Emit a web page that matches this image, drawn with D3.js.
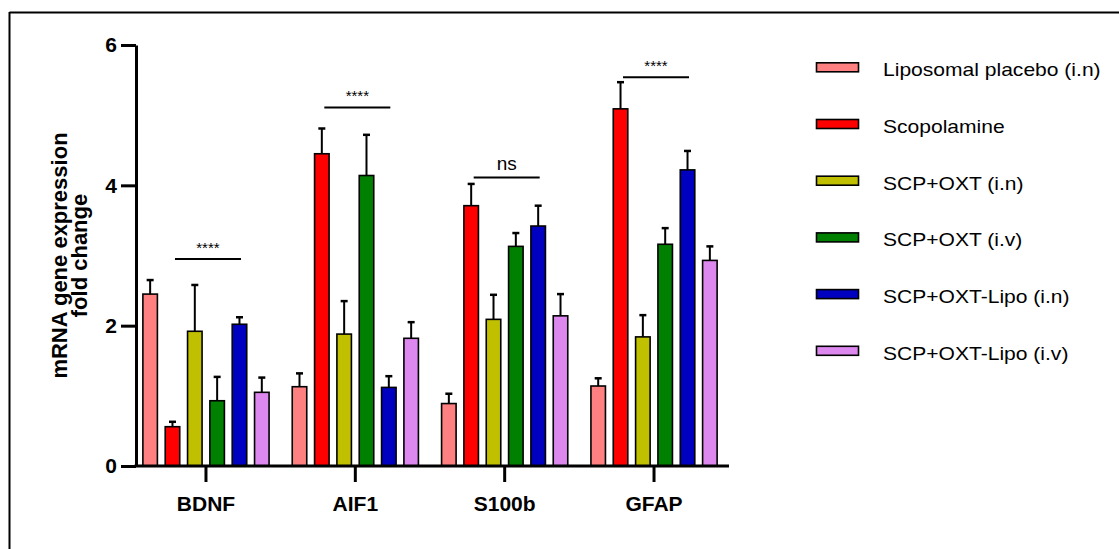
<!DOCTYPE html>
<html>
<head>
<meta charset="utf-8">
<script src="https://cdn.jsdelivr.net/npm/d3@7"></script>
<style>
  body { margin: 0; background: #fff; }
  svg { display: block; font-family: "Liberation Sans", Arial, sans-serif; }
</style>
</head>
<body>
<svg id="chart" width="1119" height="549"></svg>
<script>
// categories and groups
const categories = ["BDNF", "AIF1", "S100b", "GFAP"];
const seriesNames = [
  "Liposomal placebo (i.n)",
  "Scopolamine",
  "SCP+OXT (i.n)",
  "SCP+OXT (i.v)",
  "SCP+OXT-Lipo (i.n)",
  "SCP+OXT-Lipo (i.v)"
];
const seriesColors = ["#FF8080", "#FF0000", "#C0C000", "#008000", "#0000C0", "#DD88EE"];

// mean fold change per series (BDNF, AIF1, S100b, GFAP)
const placeboMean   = [2.45, 1.13, 0.89, 1.14];
const scopMean      = [0.56, 4.45, 3.71, 5.09];
const oxtInMean     = [1.92, 1.88, 2.09, 1.84];
const oxtIvMean     = [0.93, 4.14, 3.13, 3.16];
const lipoInMean    = [2.02, 1.12, 3.42, 4.22];
const lipoIvMean    = [1.05, 1.82, 2.14, 2.93];

// error (upper only)
const placeboErr = [0.20, 0.19, 0.14, 0.11];
const scopErr    = [0.07, 0.36, 0.31, 0.38];
const oxtInErr   = [0.66, 0.47, 0.35, 0.31];
const oxtIvErr   = [0.34, 0.58, 0.19, 0.23];
const lipoInErr  = [0.10, 0.16, 0.29, 0.27];
const lipoIvErr  = [0.21, 0.23, 0.31, 0.20];

const yTicks = [0, 2, 4, 6];

// significance brackets
const sigLabels = ["****", "****", "ns", "****"];
const sigLevels = [2.95, 5.11, 4.11, 5.54];

const means = [placeboMean, scopMean, oxtInMean, oxtIvMean, lipoInMean, lipoIvMean];
const errs = [placeboErr, scopErr, oxtInErr, oxtIvErr, lipoInErr, lipoIvErr];

const rows = [];
categories.forEach((c, ci) => {
  seriesNames.forEach((s, si) => {
    rows.push({cat: c, series: s, i: si, value: means[si][ci], err: errs[si][ci]});
  });
});

const svg = d3.select("#chart");
svg.append("rect").attr("width", 1119).attr("height", 549).attr("fill", "#fff");

// frame (top and left)
svg.append("line").attr("x1", 9.5).attr("x2", 1119).attr("y1", 12.5).attr("y2", 12.5)
  .attr("stroke", "#000").attr("stroke-width", 2);
svg.append("line").attr("x1", 9.5).attr("x2", 9.5).attr("y1", 12).attr("y2", 549)
  .attr("stroke", "#000").attr("stroke-width", 2);

const y = d3.scaleLinear().domain([0, 6]).range([466, 45]);
const x0 = d3.scaleBand().domain(categories).range([131.3, 728.7]);
const x1 = d3.scaleBand().domain(seriesNames).range([-67, 67]).paddingInner(0.35).paddingOuter(0.175);
const color = d3.scaleOrdinal().domain(seriesNames).range(seriesColors);

const cx = c => x0(c) + x0.bandwidth() / 2;

// bars
const g = svg.append("g");
g.selectAll("rect.bar").data(rows).join("rect")
  .attr("class", "bar")
  .attr("x", d => cx(d.cat) + x1(d.series))
  .attr("width", x1.bandwidth())
  .attr("y", d => y(d.value))
  .attr("height", d => y(0) - y(d.value))
  .attr("fill", d => color(d.series))
  .attr("stroke", "#000")
  .attr("stroke-width", 1.6);

// error bars
g.selectAll("line.err").data(rows).join("line")
  .attr("class", "err")
  .attr("x1", d => cx(d.cat) + x1(d.series) + x1.bandwidth() / 2)
  .attr("x2", d => cx(d.cat) + x1(d.series) + x1.bandwidth() / 2)
  .attr("y1", d => y(d.value))
  .attr("y2", d => y(d.value + d.err))
  .attr("stroke", "#000").attr("stroke-width", 2);
g.selectAll("line.cap").data(rows).join("line")
  .attr("class", "cap")
  .attr("x1", d => cx(d.cat) + x1(d.series) + x1.bandwidth() / 2 - 3.5)
  .attr("x2", d => cx(d.cat) + x1(d.series) + x1.bandwidth() / 2 + 3.5)
  .attr("y1", d => y(d.value + d.err))
  .attr("y2", d => y(d.value + d.err))
  .attr("stroke", "#000").attr("stroke-width", 2.5);

// y axis
const yAxis = svg.append("g").attr("transform", "translate(136,0)")
  .call(d3.axisLeft(y).tickValues(yTicks).tickSize(15).tickSizeOuter(0).tickPadding(4).tickFormat(d3.format("d")));
yAxis.select(".domain").attr("stroke-width", 3);
yAxis.selectAll(".tick line").attr("stroke-width", 3);
yAxis.selectAll(".tick text").attr("font-size", 21).attr("font-weight", "bold")
  .attr("font-family", "Liberation Sans, Arial, sans-serif").attr("fill", "#000");

// x axis
const xAxis = svg.append("g").attr("transform", "translate(0,466)")
  .call(d3.axisBottom(x0).tickSize(16).tickSizeOuter(0).tickPadding(14));
xAxis.select(".domain").remove();
xAxis.selectAll(".tick line").attr("stroke-width", 3);
xAxis.selectAll(".tick text").attr("font-size", 21).attr("font-weight", "bold")
  .attr("font-family", "Liberation Sans, Arial, sans-serif").attr("fill", "#000");
svg.append("line").attr("x1", 134.5).attr("x2", 729).attr("y1", y(0)).attr("y2", y(0))
  .attr("stroke", "#000").attr("stroke-width", 3);

// y label
const yl = svg.append("text")
  .attr("transform", `translate(67,${(y(0) + y(6)) / 2}) rotate(-90)`)
  .attr("text-anchor", "middle").attr("font-weight", "bold").attr("font-size", 22);
yl.append("tspan").attr("x", 0).attr("dy", 0).text("mRNA gene expression");
yl.append("tspan").attr("x", 0).attr("dy", 20).text("fold change");

// significance brackets
const sig = svg.append("g");
categories.forEach((c, ci) => {
  sig.append("line")
    .attr("x1", cx(c) - 31).attr("x2", cx(c) + 35)
    .attr("y1", y(sigLevels[ci])).attr("y2", y(sigLevels[ci]))
    .attr("stroke", "#000").attr("stroke-width", 2);
  const isStars = sigLabels[ci] !== "ns";
  sig.append("text")
    .attr("x", cx(c) + 2)
    .attr("y", y(sigLevels[ci]) - (isStars ? 6 : 8))
    .attr("text-anchor", "middle")
    .attr("font-size", isStars ? 15 : 19)
    .attr("fill", "#000")
    .text(sigLabels[ci]);
});

// legend
const legend = svg.append("g");
seriesNames.forEach((s, i) => {
  const ly = 67.3 + i * 56.7;
  legend.append("rect")
    .attr("x", 816.5).attr("y", ly - 4.5).attr("width", 42).attr("height", 9)
    .attr("fill", color(s)).attr("stroke", "#000").attr("stroke-width", 1.6);
  legend.append("text")
    .attr("transform", `translate(883,${ly + 9}) scale(1.17,1)`)
    .attr("font-size", 18).attr("fill", "#000")
    .text(s);
});
</script>
</body>
</html>
